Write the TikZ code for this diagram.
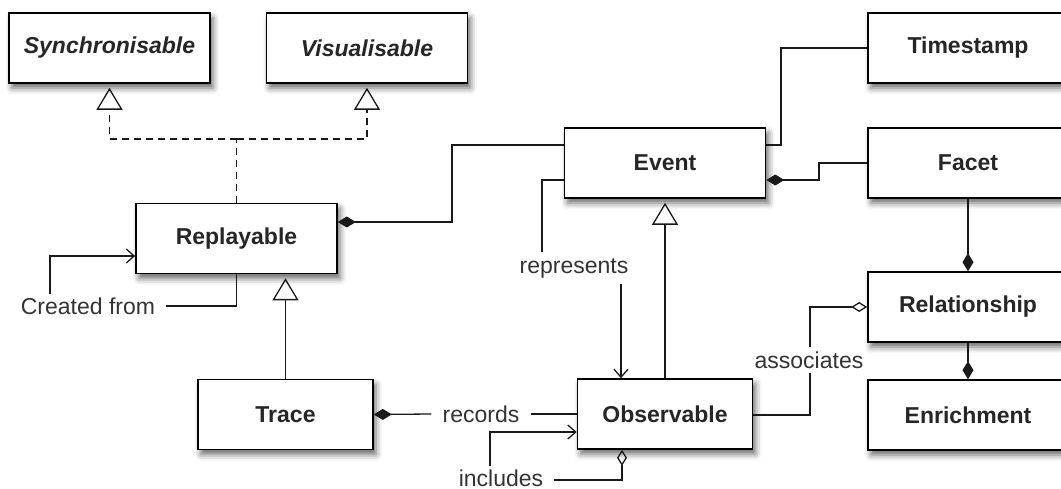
\documentclass[tikz,border=0pt]{standalone}
\usepackage{fontspec}
\setmainfont{Liberation Sans}
\usetikzlibrary{arrows.meta,shadows.blur}
\begin{document}
\begin{tikzpicture}[x=1pt,y=-1pt,
  cls/.style={draw=black, line width=1.6pt, fill=white, minimum width=201pt, minimum height=70pt,
    font=\fontsize{23}{27}\selectfont\bfseries, text=black!85,
    blur shadow={shadow xshift=3pt, shadow yshift=-5pt, shadow blur radius=6pt, shadow opacity=60}},
  lbl/.style={font=\fontsize{23}{27}\selectfont, text=black!80, inner xsep=11pt, inner ysep=3pt},
  conn/.style={line width=1.3pt, draw=black!90},
  gen/.style={conn, -{Triangle[open, length=22pt, width=26pt]}, shorten >=4pt},
  comp/.style={conn, arrows={Diamond[length=18pt, width=11pt]-}},
  agg/.style={conn, arrows={Diamond[open, length=16pt, width=10pt]-}},
  barb/.style={conn, -{Straight Barb[length=8pt, width=14pt]}},
  realline/.style={conn, dash pattern=on 7pt off 5pt}
]
\useasboundingbox (0,0) rectangle (1061,489);
\clip (0,0) rectangle (1061,489);

% classes
\node[cls, font=\fontsize{23}{27}\selectfont\bfseries\itshape] (sync) at (109.5,48) {Synchronisable};
\node[cls, font=\fontsize{23}{27}\selectfont\bfseries\itshape] (vis) at (367,48) {Visualisable};
\node[cls] (rep) at (236.5,238.5) {Replayable};
\node[cls] (ev) at (665,163) {Event};
\node[cls, minimum width=175pt] (tr) at (285.5,414.5) {Trace};
\node[cls, minimum width=175pt] (ob) at (665,414) {Observable};
\node[cls, minimum width=200pt] (ts) at (968,48) {Timestamp};
\node[cls, minimum width=200pt] (fa) at (968,163) {Facet};
\node[cls, minimum width=200pt] (rel) at (968,307) {Relationship};
\node[cls, minimum width=200pt] (en) at (968,415) {Enrichment};

% labels
\node[lbl] (cf) at (88,306) {Created from};
\node[lbl] (recl) at (481,414) {records};
\node[lbl] (incl) at (501,478) {includes};
\node[lbl, inner ysep=6pt] (repl) at (574,268) {represents};

% realization
\coordinate (j) at (236.5,139);
\draw[realline] (rep.north) -- (j);
\draw[gen, dash pattern=on 7pt off 5pt] (j) -| (sync.south);
\draw[gen, dash pattern=on 7pt off 5pt] (j) -| (vis.south);

% Replayable - Event
\draw[comp] (rep.east |- 0,222) -- (452,222) |- (ev.west |- 0,145);

% Created from
\draw[conn] (cf.east) -- (rep.south |- cf.east) -- (rep.south);
\draw[barb] (cf.north -| 50,0) -- (50,256) -- (rep.west |- 0,256);

% Trace generalization
\draw[gen] (tr.north) -- (tr.north |- rep.south);

% records
\draw[comp] (tr.east) -- (recl.west);
\draw[conn] (recl.east) -- (ob.west |- recl.east);

% includes
\draw[barb] (incl.north -| 490,0) -- (490,432) -- (ob.west |- 0,432);
\draw[agg] (ob.south -| 622,0) -- (622,480) -- (incl.east |- 0,480);

% represents
\draw[conn] (ev.west |- 0,180) -- (542,180) -- (repl.north -| 542,0);
\draw[barb] (repl.south -| 621,0) -- (ob.north -| 621,0);

% Observable generalization to Event
\draw[gen] (ob.north) -- (ev.south);

% Event - Timestamp, Facet
\draw[conn] (ev.east |- 0,145) -- (781,145) |- (ts.west);
\draw[comp] (ev.east |- 0,180) -- (819,180) |- (fa.west);

% Facet - Relationship - Enrichment
\draw[conn, -{Diamond[length=18pt, width=11pt]}] (fa.south) -- (rel.north);
\draw[conn, -{Diamond[length=18pt, width=11pt]}] (rel.south) -- (en.north);

% associates
\draw[agg] (rel.west) -- (810,307) -- (810,415) -- (ob.east |- 0,415);
\node[lbl, fill=white, inner xsep=2pt, inner ysep=5pt] (asl) at (809,360) {associates};
\end{tikzpicture}
\end{document}
